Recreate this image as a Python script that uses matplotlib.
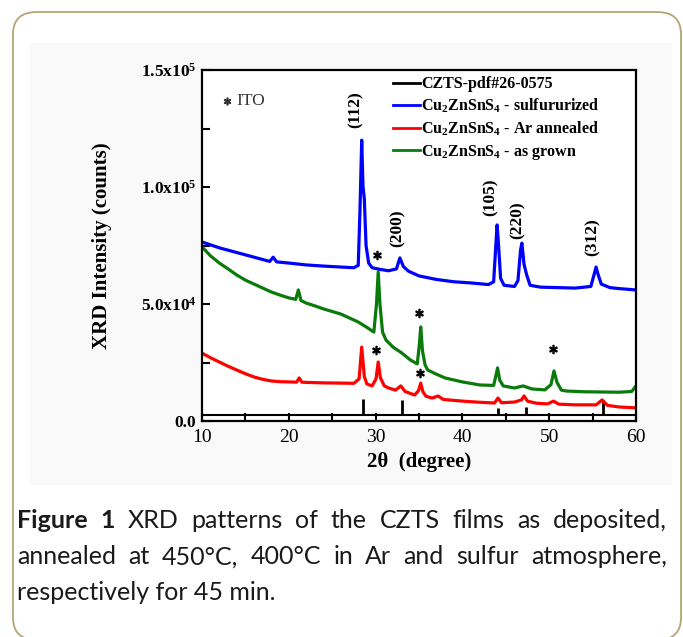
import matplotlib
matplotlib.use('Agg')
import matplotlib.pyplot as plt
from matplotlib.lines import Line2D
from matplotlib.patches import FancyBboxPatch, Rectangle

plt.rcParams['mathtext.fontset'] = 'custom'
plt.rcParams['mathtext.rm'] = 'Liberation Serif'
plt.rcParams['mathtext.bf'] = 'Liberation Serif:bold'
plt.rcParams['mathtext.it'] = 'Liberation Serif:italic'
plt.rcParams['mathtext.default'] = 'bf'

# ---- data ----
tt_blue = [10, 12, 14, 16, 17.8, 18.2, 18.6, 20, 22, 24, 26, 27.5, 28.0, 28.2, 28.4,
           28.55, 28.7, 28.9, 29.2, 29.6, 30.5, 31.5, 32.4, 32.8, 33.2, 33.8, 35, 37,
           39, 41, 43, 43.6, 43.85, 44.0, 44.15, 44.4, 44.8, 46, 46.4, 46.7, 46.85,
           47.1, 47.4, 47.8, 49, 51, 53, 54.8, 55.2, 55.4, 55.6, 56.0, 57, 58, 59, 60]
counts_blue = [76500, 74000, 72000, 70000, 68200, 70000, 68000, 67500, 66700, 66200,
               65800, 65500, 66500, 90000, 120000, 100000, 95000, 75000, 67500, 65500,
               64800, 64200, 65000, 69700, 66000, 64000, 62000, 60500, 59500, 59000,
               58300, 59500, 75000, 83800, 76000, 61000, 58000, 57500, 60000, 73000,
               76000, 67000, 62500, 58000, 57200, 57000, 56800, 57500, 63000, 65800,
               63000, 58500, 57000, 56600, 56300, 56000]

tt_green = [10, 11, 12, 13, 14, 15, 16, 17, 18, 19, 20, 20.8, 21.1, 21.4, 22, 23, 24,
            25, 26, 27, 28, 29, 29.8, 30.1, 30.3, 30.5, 30.8, 31.2, 32, 33, 34, 34.8,
            35.05, 35.2, 35.4, 35.7, 36, 37, 38, 40, 42, 43.6, 43.9, 44.05, 44.3, 44.7,
            46, 47, 48, 49.5, 50.2, 50.55, 50.9, 51.4, 52, 54, 56, 58, 59.5, 60]
counts_green = [74400, 70500, 67500, 65000, 62400, 60200, 58500, 56800, 55100, 53800,
                52600, 52000, 56000, 51500, 50400, 49200, 47900, 46800, 45700, 44000,
                42300, 40000, 38000, 50000, 63700, 50000, 38000, 34600, 31600, 29100,
                26100, 24400, 33000, 40200, 30000, 24000, 21800, 20000, 18400, 16700,
                15400, 15200, 20000, 22700, 17500, 15000, 14100, 15000, 13700, 13300,
                15500, 21400, 16500, 13200, 12800, 12500, 12400, 12300, 12600, 15000]

tt_red = [10, 11, 12, 13, 14, 15, 16, 17, 18, 19, 20, 20.9, 21.2, 21.5, 22, 24, 26,
          27.5, 28.1, 28.4, 28.7, 29.0, 29.6, 30.05, 30.3, 30.55, 31.0, 31.5, 32.3,
          32.9, 33.4, 34.5, 34.95, 35.2, 35.45, 35.8, 36.5, 37.2, 37.8, 40, 42, 43.7,
          44.1, 44.5, 46, 46.8, 47.1, 47.5, 48.5, 49.8, 50.5, 51.1, 53, 55.4, 56.1,
          56.7, 58, 60]
counts_red = [29000, 27000, 25200, 23400, 21800, 20200, 18800, 17800, 17100, 16800,
              16700, 16600, 18400, 16600, 16500, 16300, 16200, 16100, 18000, 31600,
              19000, 15800, 15000, 18000, 25200, 18500, 15000, 14100, 13200, 15000,
              12600, 11100, 13000, 16200, 12500, 10600, 9800, 10700, 9200, 8500, 8000,
              7700, 9800, 7800, 8100, 9000, 10700, 8500, 7600, 7300, 8500, 7200, 6900,
              6900, 9000, 6700, 6000, 5600]

stick_pos = [28.5, 33.0, 44.1, 47.3, 56.2]
stick_top = [9400, 9000, 5500, 6000, 9000]
stick_base = 2600

peak_labels = ['(112)', '(200)', '(105)', '(220)', '(312)']
peak_label_x = [27.75, 32.5, 43.2, 46.4, 55.0]
peak_label_y = [132900, 82500, 95700, 85900, 78600]

ito_x = [30.2, 35.0, 30.0, 35.1, 50.4]
ito_y = [70900, 46100, 30300, 20500, 30700]

yticks = [0, 50000, 100000, 150000]
ytick_labels = ['0.0', r'5.0x10$^4$', r'1.0x10$^5$', r'1.5x10$^5$']
xticks = [10, 20, 30, 40, 50, 60]

legend_labels = ['CZTS-pdf#26-0575',
                 r'Cu$_2$ZnSnS$_4$ - sulfururized',
                 r'Cu$_2$ZnSnS$_4$ - Ar annealed',
                 r'Cu$_2$ZnSnS$_4$ - as grown']
legend_colors = ['black', '#0000ff', '#ff0000', '#0a7a0a']

caption_lines = [
    [('Figure', 'bold'), ('1', 'bold'), ('XRD', 'normal'), ('patterns', 'normal'),
     ('of', 'normal'), ('the', 'normal'), ('CZTS', 'normal'), ('films', 'normal'),
     ('as', 'normal'), ('deposited,', 'normal')],
    [('annealed', 'normal'), ('at', 'normal'), ('450°C,', 'normal'), ('400°C', 'normal'),
     ('in', 'normal'), ('Ar', 'normal'), ('and', 'normal'), ('sulfur', 'normal'),
     ('atmosphere,', 'normal')],
]
caption_last = 'respectively for 45 min.'

W, H = 683, 637
fig = plt.figure(figsize=(W / 100, H / 100), dpi=100)


def fx(x):
    return x / W


def fy(y):
    return 1 - y / H


# card and image background (behind the axes)
fig.patches.append(FancyBboxPatch((fx(13), fy(640)), fx(668), 628 / H,
                                  boxstyle='round,pad=0,rounding_size=0.035',
                                  transform=fig.transFigure, fill=False,
                                  edgecolor='#b3a676', linewidth=1.3, zorder=-2))
fig.patches.append(Rectangle((fx(30), fy(485)), fx(642), 442 / H,
                             transform=fig.transFigure, facecolor='#f9f9f9',
                             edgecolor='none', zorder=-3))

ax = fig.add_axes([fx(202), fy(421), fx(434), 351 / H])
ax.set_facecolor('white')
ax.set_zorder(1)

ax.vlines(stick_pos, stick_base, stick_top, color='black', linewidth=2)
ax.axhline(stick_base, color='black', linewidth=1.5)
ax.plot(tt_green, counts_green, color=legend_colors[3], linewidth=2.3)
ax.plot(tt_red, counts_red, color=legend_colors[2], linewidth=2.3)
ax.plot(tt_blue, counts_blue, color=legend_colors[1], linewidth=2.3)

ax.set_xlim(10, 60)
ax.set_ylim(0, 150000)

for s in ax.spines.values():
    s.set_linewidth(1.6)

ax.set_xticks(xticks)
ax.set_xticklabels([str(v) for v in xticks], fontfamily='Liberation Serif', fontsize=14)
ax.set_xticks([15, 25, 35, 45, 55], minor=True)
ax.set_yticks(yticks)
ax.set_yticklabels(ytick_labels, fontfamily='Liberation Serif', fontweight='bold',
                   fontsize=12.5)
ax.set_yticks([25000, 75000, 125000], minor=True)
ax.tick_params(axis='both', which='both', direction='in', length=6, width=1.5,
               top=False, right=False)
ax.tick_params(axis='x', pad=6)
ax.tick_params(axis='y', pad=4)

ax.set_xlabel('2θ  (degree)', fontfamily='Liberation Serif', fontweight='bold',
              fontsize=15, labelpad=4)
ax.set_ylabel('XRD Intensity (counts)', fontfamily='Liberation Serif',
              fontweight='bold', fontsize=15)
ax.yaxis.set_label_coords(-0.208, 0.5)

for lab, x, y in zip(peak_labels, peak_label_x, peak_label_y):
    ax.text(x, y, lab, rotation=90, ha='center', va='center',
            fontfamily='Liberation Serif', fontweight='bold', fontsize=12.5)

ax.plot(ito_x, ito_y, linestyle='none', marker=r'$\ast$', markersize=6,
        color='black')
ax.plot([12.9], [136700], linestyle='none', marker=r'$\ast$', markersize=5,
        color='#333333')
ax.text(13.9, 136700, 'ITO', ha='left', va='center', fontfamily='Liberation Serif',
        fontsize=12.5, color='#333333')

handles = [Line2D([], [], color=c, linewidth=2) for c in legend_colors]
ax.legend(handles, legend_labels, loc='upper left', bbox_to_anchor=(0.425, 1.0),
          frameon=False, borderaxespad=0.1, borderpad=0.3, handlelength=1.7,
          handletextpad=0.05, labelspacing=0.28,
          prop={'family': 'Liberation Serif', 'weight': 'bold', 'size': 11.5})

# caption, justified like the reference
renderer = fig.canvas.get_renderer()
cap_font = dict(fontfamily='Lato', fontsize=18, color='#1a1a1a', va='center')
left_px, right_px = 17, 667
line_y = [521, 557]
for words, y in zip(caption_lines, line_y):
    texts = [fig.text(0, fy(y), w, fontweight=wt, **cap_font) for w, wt in words]
    widths = [t.get_window_extent(renderer).width for t in texts]
    gap = (right_px - left_px - sum(widths)) / (len(words) - 1)
    x = left_px
    for t, w in zip(texts, widths):
        t.set_x(fx(x))
        x += w + gap
fig.text(fx(left_px), fy(593), caption_last, **cap_font)

fig.savefig('out.png', dpi=100)
